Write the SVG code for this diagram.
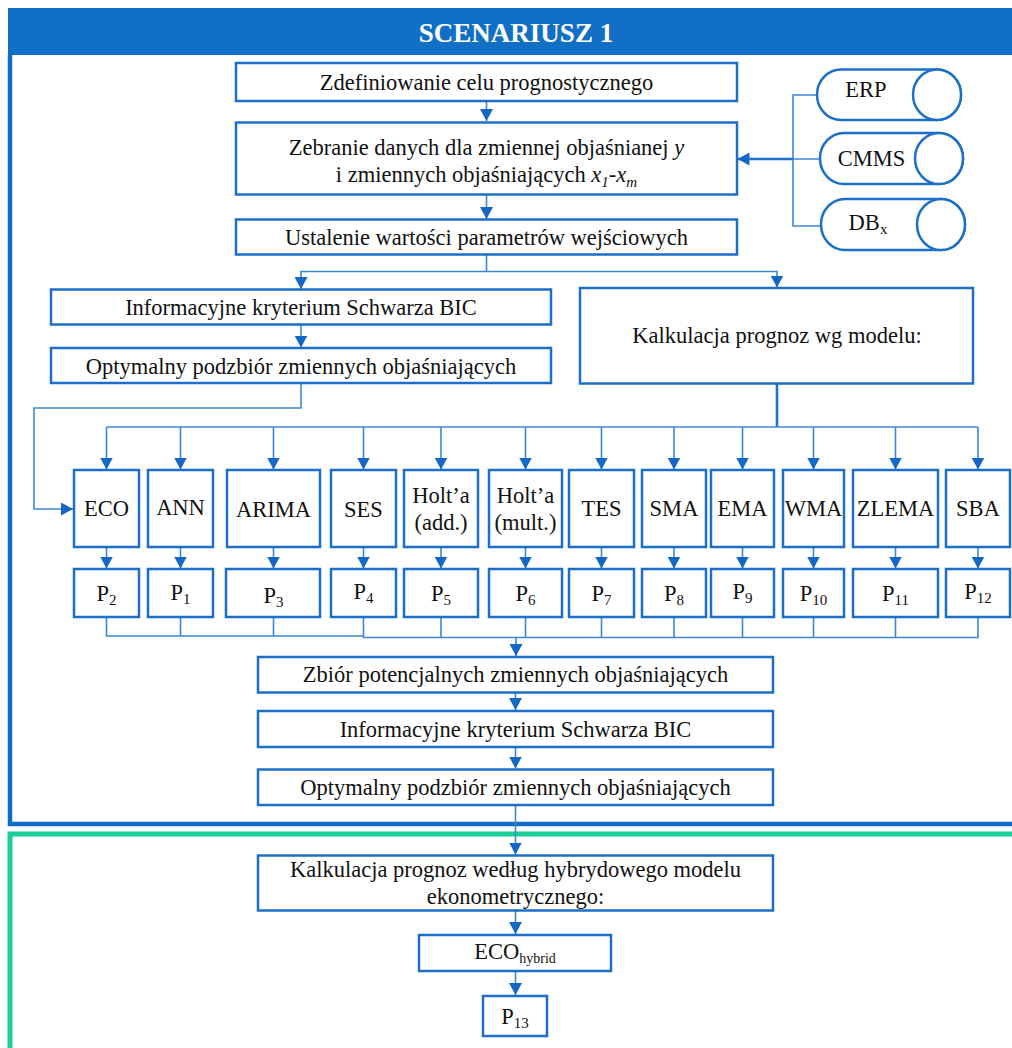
<svg xmlns="http://www.w3.org/2000/svg" width="1012" height="1048" viewBox="0 0 1012 1048">
  <style>
    .box { fill: #ffffff; stroke: #1C6FC9; stroke-width: 2.5; }
    .t { font-family: "Liberation Serif", "Times New Roman", serif; font-size: 22.5px; fill: #111111; text-anchor: middle; }
    .sub { font-size: 15px; }
    .conn { fill: none; stroke: #3C88D6; stroke-width: 1.6; }
    .arr { marker-end: url(#ah); }
    .thick { stroke-width: 2.6; stroke: #1F72C9; }
  </style>
  <defs>
    <marker id="ah" markerUnits="userSpaceOnUse" markerWidth="13" markerHeight="13" refX="12" refY="6.5" orient="auto">
      <path d="M0,0 L12,6.5 L0,13 Z" fill="#1567C6"/>
    </marker>
  </defs>

  <rect width="1012" height="1048" fill="#ffffff"/>

  <!-- Scenario 1 frame -->
  <g id="frame-scenario">
    <rect x="8" y="8" width="1010" height="47" fill="#1170C6"/>
    <path d="M10 55 V824 H1016" fill="none" stroke="#0F6CC4" stroke-width="4.5"/>
    <text x="516" y="42" class="t" style="font-size:27px;font-weight:bold;fill:#ffffff">SCENARIUSZ 1</text>
  </g>

  <!-- Hybrid frame -->
  <g id="frame-hybrid">
    <path d="M10 1052 V834 H1016" fill="none" stroke="#17CF97" stroke-width="5"/>
  </g>

  <!-- Connectors -->
  <g id="connectors">
    <path class="conn arr" d="M486.5 101 V121"/>
    <path class="conn arr" d="M486.5 195 V219"/>
    <path class="conn" d="M486.5 255 V271.5"/>
    <path class="conn arr" d="M486.5 271.5 H301 V289"/>
    <path class="conn arr" d="M486.5 271.5 H777 V287.5"/>
    <path class="conn arr" d="M301 325 V347.5"/>
    <path class="conn arr" d="M301 383.5 V408 H34 V509 H73"/>

    <!-- data sources -->
    <path class="conn" d="M817 95 H793 V226 H821"/>
    <path class="conn" d="M820 159 H750"/>
    <path class="conn thick arr" d="M793 159 H737.5"/>

    <!-- fan-out to forecasting models -->
    <path class="conn thick" d="M777 384 V427"/>
    <path class="conn" d="M106.5 427 H978"/>
    <path class="conn arr" d="M106.5 427 V469.5"/>
    <path class="conn arr" d="M180.5 427 V469.5"/>
    <path class="conn arr" d="M273.5 427 V469.5"/>
    <path class="conn arr" d="M363.5 427 V469.5"/>
    <path class="conn arr" d="M441 427 V469.5"/>
    <path class="conn arr" d="M525.5 427 V469.5"/>
    <path class="conn arr" d="M601.5 427 V469.5"/>
    <path class="conn arr" d="M674 427 V469.5"/>
    <path class="conn arr" d="M742.5 427 V469.5"/>
    <path class="conn arr" d="M813.5 427 V469.5"/>
    <path class="conn arr" d="M895.5 427 V469.5"/>
    <path class="conn arr" d="M978 427 V469.5"/>

    <!-- model to forecast -->
    <path class="conn arr" d="M106.5 547.5 V568.5"/>
    <path class="conn arr" d="M180.5 547.5 V568.5"/>
    <path class="conn arr" d="M273.5 547.5 V568.5"/>
    <path class="conn arr" d="M363.5 547.5 V568.5"/>
    <path class="conn arr" d="M441 547.5 V568.5"/>
    <path class="conn arr" d="M525.5 547.5 V568.5"/>
    <path class="conn arr" d="M601.5 547.5 V568.5"/>
    <path class="conn arr" d="M674 547.5 V568.5"/>
    <path class="conn arr" d="M742.5 547.5 V568.5"/>
    <path class="conn arr" d="M813.5 547.5 V568.5"/>
    <path class="conn arr" d="M895.5 547.5 V568.5"/>
    <path class="conn arr" d="M978 547.5 V568.5"/>

    <!-- forecasts merge -->
    <path class="conn" d="M106.5 617 V636 H363.5"/>
    <path class="conn" d="M180.5 617 V636 M273.5 617 V636"/>
    <path class="conn" d="M363.5 617 V637.5 H978 V617"/>
    <path class="conn" d="M441 617 V637.5 M525.5 617 V637.5 M601.5 617 V637.5 M674 617 V637.5 M742.5 617 V637.5 M813.5 617 V637.5 M895.5 617 V637.5"/>
    <path class="conn arr" d="M516 637 V656"/>

    <path class="conn arr" d="M515.5 692.5 V710"/>
    <path class="conn arr" d="M515.5 747.5 V768.5"/>
    <path class="conn arr" d="M515.5 805.5 V854.5"/>
    <path class="conn arr" d="M515.5 911 V934"/>
    <path class="conn arr" d="M515.5 971 V995"/>
  </g>

  <!-- Process steps -->
  <g id="n-cel">
    <rect class="box" x="236" y="63" width="501" height="38"/>
    <text class="t" x="486.5" y="90">Zdefiniowanie celu prognostycznego</text>
  </g>
  <g id="n-dane">
    <rect class="box" x="236" y="122.5" width="501" height="72"/>
    <text class="t" x="486.5" y="155">Zebranie danych dla zmiennej objaśnianej <tspan font-style="italic">y</tspan></text>
    <text class="t" x="486.5" y="181.5">i zmiennych objaśniających <tspan font-style="italic">x</tspan><tspan class="sub" font-style="italic" dy="5">1</tspan><tspan dy="-5">-</tspan><tspan font-style="italic">x</tspan><tspan class="sub" font-style="italic" dy="5">m</tspan></text>
  </g>
  <g id="n-parametry">
    <rect class="box" x="236" y="219.5" width="501" height="35"/>
    <text class="t" x="486.5" y="245">Ustalenie wartości parametrów wejściowych</text>
  </g>

  <!-- Data sources -->
  <g id="n-erp">
    <path class="box" d="M841 69.5 H937 A24 25.25 0 0 1 937 120 H841 A24 25.25 0 0 1 841 69.5 Z"/>
    <ellipse class="box" cx="937" cy="94.75" rx="24" ry="25.25"/>
    <text class="t" x="866" y="97">ERP</text>
  </g>
  <g id="n-cmms">
    <path class="box" d="M844 133 H939 A24 25.5 0 0 1 939 184 H844 A24 25.5 0 0 1 844 133 Z"/>
    <ellipse class="box" cx="939" cy="158.5" rx="24" ry="25.5"/>
    <text class="t" x="871.5" y="166">CMMS</text>
  </g>
  <g id="n-dbx">
    <path class="box" d="M845 199 H941 A24 25.5 0 0 1 941 250 H845 A24 25.5 0 0 1 845 199 Z"/>
    <ellipse class="box" cx="941" cy="224.5" rx="24" ry="25.5"/>
    <text class="t" x="868" y="230">DB<tspan class="sub" dy="4">x</tspan></text>
  </g>

  <!-- Variable selection (left branch) -->
  <g id="n-bic1">
    <rect class="box" x="51" y="289.5" width="500" height="35"/>
    <text class="t" x="301" y="315">Informacyjne kryterium Schwarza BIC</text>
  </g>
  <g id="n-opt1">
    <rect class="box" x="51" y="348" width="500" height="35"/>
    <text class="t" x="301" y="374">Optymalny podzbiór zmiennych objaśniających</text>
  </g>

  <!-- Model calculation -->
  <g id="n-kalk">
    <rect class="box" x="580" y="288" width="393" height="95.5"/>
    <text class="t" x="777" y="343">Kalkulacja prognoz wg modelu:</text>
  </g>

  <!-- Forecasting models -->
  <g id="m-eco"><rect class="box" x="74" y="470" width="65" height="77"/><text class="t" x="106.5" y="516">ECO</text></g>
  <g id="m-ann"><rect class="box" x="148" y="470" width="65" height="77"/><text class="t" x="180.5" y="515">ANN</text></g>
  <g id="m-arima"><rect class="box" x="227" y="470" width="93" height="77"/><text class="t" x="273.5" y="517">ARIMA</text></g>
  <g id="m-ses"><rect class="box" x="331" y="470" width="65" height="77"/><text class="t" x="363.5" y="517">SES</text></g>
  <g id="m-holt-add"><rect class="box" x="404" y="470" width="74" height="77"/><text class="t" x="441" y="503">Holt’a</text><text class="t" x="441" y="530">(add.)</text></g>
  <g id="m-holt-mult"><rect class="box" x="489" y="470" width="73" height="77"/><text class="t" x="525.5" y="503">Holt’a</text><text class="t" x="525.5" y="530">(mult.)</text></g>
  <g id="m-tes"><rect class="box" x="569" y="470" width="65" height="77"/><text class="t" x="601.5" y="516">TES</text></g>
  <g id="m-sma"><rect class="box" x="642" y="470" width="64" height="77"/><text class="t" x="674" y="516">SMA</text></g>
  <g id="m-ema"><rect class="box" x="711" y="470" width="63" height="77"/><text class="t" x="742.5" y="516">EMA</text></g>
  <g id="m-wma"><rect class="box" x="783" y="470" width="61" height="77"/><text class="t" x="813.5" y="516">WMA</text></g>
  <g id="m-zlema"><rect class="box" x="853" y="470" width="85" height="77"/><text class="t" x="895.5" y="516">ZLEMA</text></g>
  <g id="m-sba"><rect class="box" x="946" y="470" width="64" height="77"/><text class="t" x="978" y="516">SBA</text></g>

  <!-- Forecasts -->
  <g id="p2"><rect class="box" x="74" y="569" width="65" height="48"/><text class="t" x="106.5" y="601">P<tspan class="sub" dy="4">2</tspan></text></g>
  <g id="p1"><rect class="box" x="148" y="569" width="65" height="48"/><text class="t" x="180.5" y="600">P<tspan class="sub" dy="4">1</tspan></text></g>
  <g id="p3"><rect class="box" x="226" y="569" width="94" height="48"/><text class="t" x="273.5" y="603">P<tspan class="sub" dy="4">3</tspan></text></g>
  <g id="p4"><rect class="box" x="331" y="569" width="65" height="48"/><text class="t" x="363.5" y="599">P<tspan class="sub" dy="4">4</tspan></text></g>
  <g id="p5"><rect class="box" x="404" y="569" width="74" height="48"/><text class="t" x="441" y="601">P<tspan class="sub" dy="4">5</tspan></text></g>
  <g id="p6"><rect class="box" x="489" y="569" width="73" height="48"/><text class="t" x="525.5" y="601">P<tspan class="sub" dy="4">6</tspan></text></g>
  <g id="p7"><rect class="box" x="569" y="569" width="65" height="48"/><text class="t" x="601.5" y="601">P<tspan class="sub" dy="4">7</tspan></text></g>
  <g id="p8"><rect class="box" x="642" y="569" width="64" height="48"/><text class="t" x="674" y="601">P<tspan class="sub" dy="4">8</tspan></text></g>
  <g id="p9"><rect class="box" x="711" y="569" width="63" height="48"/><text class="t" x="742.5" y="599">P<tspan class="sub" dy="4">9</tspan></text></g>
  <g id="p10"><rect class="box" x="783" y="569" width="61" height="48"/><text class="t" x="813.5" y="601">P<tspan class="sub" dy="4">10</tspan></text></g>
  <g id="p11"><rect class="box" x="853" y="569" width="85" height="48"/><text class="t" x="895.5" y="601">P<tspan class="sub" dy="4">11</tspan></text></g>
  <g id="p12"><rect class="box" x="946" y="569" width="64" height="48"/><text class="t" x="978" y="599">P<tspan class="sub" dy="4">12</tspan></text></g>

  <!-- Second-stage selection -->
  <g id="n-zbior">
    <rect class="box" x="258" y="657" width="515" height="35.5"/>
    <text class="t" x="515.5" y="682">Zbiór potencjalnych zmiennych objaśniających</text>
  </g>
  <g id="n-bic2">
    <rect class="box" x="258" y="711" width="515" height="36"/>
    <text class="t" x="515.5" y="737">Informacyjne kryterium Schwarza BIC</text>
  </g>
  <g id="n-opt2">
    <rect class="box" x="258" y="769.5" width="515" height="35.5"/>
    <text class="t" x="515.5" y="795">Optymalny podzbiór zmiennych objaśniających</text>
  </g>

  <!-- Hybrid model -->
  <g id="n-hybrid">
    <rect class="box" x="258" y="855.5" width="515" height="55"/>
    <text class="t" x="515.5" y="877">Kalkulacja prognoz według hybrydowego modelu</text>
    <text class="t" x="515.5" y="904">ekonometrycznego:</text>
  </g>
  <g id="n-eco-hybrid">
    <rect class="box" x="419" y="935" width="192" height="36"/>
    <text class="t" x="515" y="959">ECO<tspan class="sub" dy="4" style="font-size:14px">hybrid</tspan></text>
  </g>
  <g id="n-p13">
    <rect class="box" x="483" y="996" width="64" height="40"/>
    <text class="t" x="515" y="1024">P<tspan class="sub" dy="4">13</tspan></text>
  </g>
</svg>
